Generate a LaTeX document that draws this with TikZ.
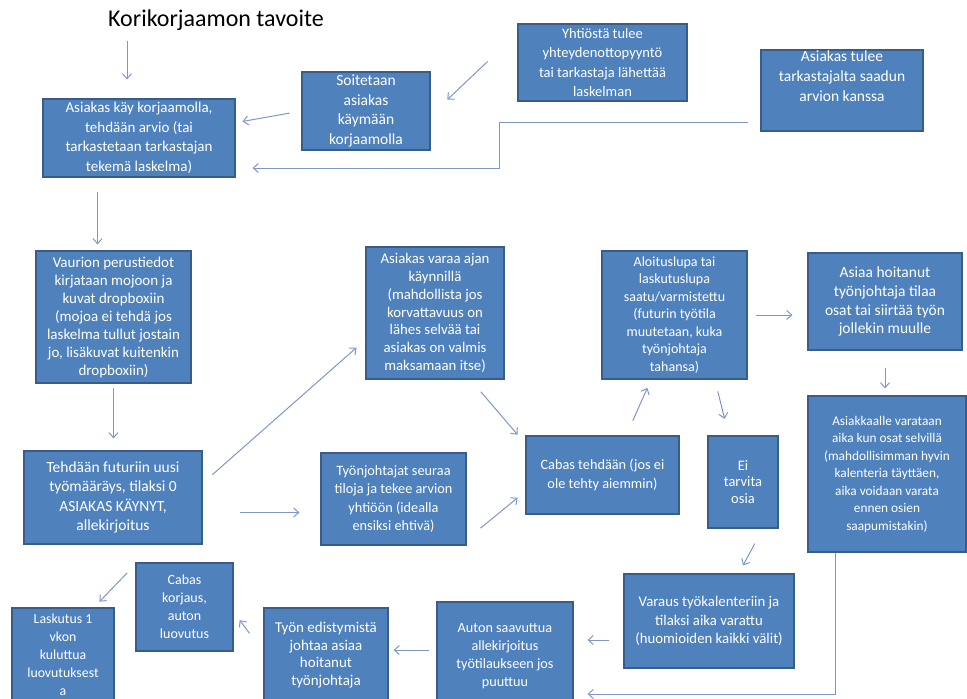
\documentclass[tikz,border=0pt]{standalone}
\usepackage{fontspec}
\setmainfont{Carlito}
\usetikzlibrary{arrows.meta, calc}

\definecolor{boxblue}{HTML}{4F81BD}
\definecolor{boxline}{HTML}{385D8A}
\definecolor{arrowblue}{HTML}{7F97C6}

\begin{document}
\begin{tikzpicture}[x=1pt, y=-1pt,
    box/.style={draw=boxline, fill=boxblue, line width=1.2pt, text=white, align=center,
      inner sep=0pt, font=\fontsize{13}{18}\selectfont},
    fs/.style 2 args={font=\fontsize{#1}{#2}\selectfont},
    boxsize/.style 2 args={minimum width=#1pt, minimum height=#2pt},
    arr/.style={draw=arrowblue, line width=1pt, -{Straight Barb[length=5pt,width=9pt]}}]

  \useasboundingbox (0,0) rectangle (967,699);
  \clip (0,0) rectangle (967,699);

  \node[fs={24}{28}, inner sep=0pt] (title) at (216,20) {Korikorjaamon tavoite};

  % top row
  \node[box, fs={15}{19.5}, boxsize={192}{78}] (visit) at (139,138) {Asiakas käy korjaamolla,\\ tehdään arvio (tai\\ tarkastetaan tarkastajan\\ tekemä laskelma)};
  \node[box, fs={15.5}{19.5}, boxsize={128}{78}] (call) at (366,111) {Soitetaan\\ asiakas\\ käymään\\ korjaamolla};
  \node[box, fs={14.5}{19.5}, boxsize={169}{77}] (insurer) at (602.5,62.5) {Yhtiöstä tulee\\ yhteydenottopyyntö\\ tai tarkastaja lähettää\\ laskelman};
  \node[box, fs={15.5}{20}, boxsize={162}{81}] (inspector) at (842,90.5) {Asiakas tulee\\ tarkastajalta saadun\\ arvion kanssa\\[8pt] \mbox{}};

  % middle
  \node[box, fs={15}{18}, boxsize={155}{132}] (photos) at (113.5,317) {Vaurion perustiedot\\ kirjataan mojoon ja\\ kuvat dropboxiin\\ (mojoa ei tehdä jos\\ laskelma tullut jostain\\ jo, lisäkuvat kuitenkin\\ dropboxiin)};
  \node[box, fs={15.5}{19.2}, boxsize={178}{93}] (order) at (113,497.5) {Tehdään futuriin uusi\\ työmääräys, tilaksi 0\\ ASIAKAS KÄYNYT,\\ allekirjoitus};
  \node[box, fs={14.8}{17.8}, boxsize={138}{132}] (booking) at (435,313) {Asiakas varaa ajan\\ käynnillä\\ (mahdollista jos\\ korvattavuus on\\ lähes selvää tai\\ asiakas on valmis\\ maksamaan itse)};
  \node[box, fs={14.3}{18.1}, boxsize={145}{92}] (foremen) at (393.5,499) {Työnjohtajat seuraa\\ tiloja ja tekee arvion\\ yhtiöön (idealla\\ ensiksi ehtivä)};
  \node[box, fs={14.3}{18.3}, boxsize={153}{78}] (cabas) at (602.5,475) {Cabas tehdään (jos ei\\ ole tehty aiemmin)};
  \node[box, fs={14}{17.5}, boxsize={145}{128}] (permit) at (674.5,315) {Aloituslupa tai\\ laskutuslupa\\ saatu/varmistettu\\ (futurin työtila\\ muutetaan, kuka\\ työnjohtaja\\ tahansa)};
  \node[box, fs={15.5}{18.9}, boxsize={154}{97}] (parts) at (885,301.5) {Asiaa hoitanut\\ työnjohtaja tilaa\\ osat tai siirtää työn\\ jollekin muulle};
  \node[box, fs={13.3}{17.5}, boxsize={158}{156}] (slot) at (887,474) {Asiakkaalle varataan\\ aika kun osat selvillä\\ (mahdollisimman hyvin\\ kalenteria täyttäen,\\ aika voidaan varata\\ ennen osien\\ saapumistakin)};
  \node[box, fs={14.5}{16.7}, boxsize={70}{92}] (noparts) at (743,482) {Ei\\ tarvita\\ osia};

  % bottom row
  \node[box, fs={14.8}{18.5}, boxsize={170}{94}] (calendar) at (709,621) {Varaus työkalenteriin ja\\ tilaksi aika varattu\\ (huomioiden kaikki välit)};
  \node[box, fs={14.2}{18}, boxsize={136}{108}] (arrival) at (505,656) {Auton saavuttua\\ allekirjoitus\\ työtilaukseen jos\\ puuttuu};
  \node[box, fs={15}{17.4}, boxsize={124}{94}] (progress) at (326,655) {Työn edistymistä\\ johtaa asiaa\\ hoitanut\\ työnjohtaja};
  \node[box, fs={14}{18}, boxsize={97}{88}] (handover) at (184.5,607) {Cabas\\ korjaus,\\ auton\\ luovutus};
  \node[box, fs={13.8}{17.9}, boxsize={102}{94}] (invoice) at (63,655) {Laskutus 1\\ vkon\\ kuluttua\\ luovutuksest\\ a};

  % arrows
  \draw[arr, shorten <=10pt, shorten >=19pt] ($(title.south -| visit.north)+(-12,0)$) -- ($(visit.north)+(-12,0)$);
  \draw[arr, shorten <=41pt, shorten >=23pt] (insurer.161) -- (call.356);
  \draw[arr, shorten <=12pt, shorten >=7pt] (call.west) -- (visit.9);
  \draw[arr, shorten >=17pt] ($(inspector.west)+(-12,31.5)$) -| ($(visit.east)+(264,30)$) -- ($(visit.east)+(0,30)$);
  \draw[arr, shorten <=14pt, shorten >=6pt] ($(visit.south)+(-41.5,0)$) -- ($(photos.north)+(-16,0)$);
  \draw[arr, shorten <=4pt, shorten >=12pt] (photos.south) -- (photos.south |- order.north);
  \draw[arr, shorten <=13pt, shorten >=12pt] (order.9) -- (booking.201);
  \draw[arr, shorten <=37pt, shorten >=21pt] ($(order.east)+(0,15)$) -- ($(order.east -| foremen.west)+(0,15)$);
  \draw[arr, shorten <=16pt, shorten >=12pt] (booking.298) -- (cabas.158);
  \draw[arr, shorten <=18pt, shorten >=10pt] (foremen.331) -- (cabas.192);
  \draw[arr, shorten <=16pt, shorten >=9pt] (cabas.59) -- (permit.250);
  \draw[arr, shorten <=8pt, shorten >=15pt] (permit.east) -- (permit.east -| parts.west);
  \draw[arr, shorten <=17pt, shorten >=7pt] (parts.south) -- (parts.south |- slot.north);
  \draw[arr, shorten <=12pt, shorten >=17pt] (permit.302) -- (noparts.107);
  \draw[arr, shorten <=17pt, shorten >=9pt] (noparts.293) -- (calendar.58);
  \draw[arr, shorten <=14pt, shorten >=14pt] ($(calendar.west)+(0,19)$) -- ($(calendar.west -| arrival.east)+(0,19)$);
  \draw[arr, shorten >=14pt] ($(slot.south)+(-52,0)$) |- ($(arrival.east)+(0,38)$);
  \draw[arr, shorten <=7pt, shorten >=5pt] ($(arrival.west)+(0,-6)$) -- ($(arrival.west -| progress.east)+(0,-6)$);
  \draw[arr, shorten <=23pt, shorten >=10pt] (progress.177) -- (handover.354);
  \draw[arr, shorten <=12pt, shorten >=8pt] (handover.139) -- (invoice.57);
\end{tikzpicture}
\end{document}
